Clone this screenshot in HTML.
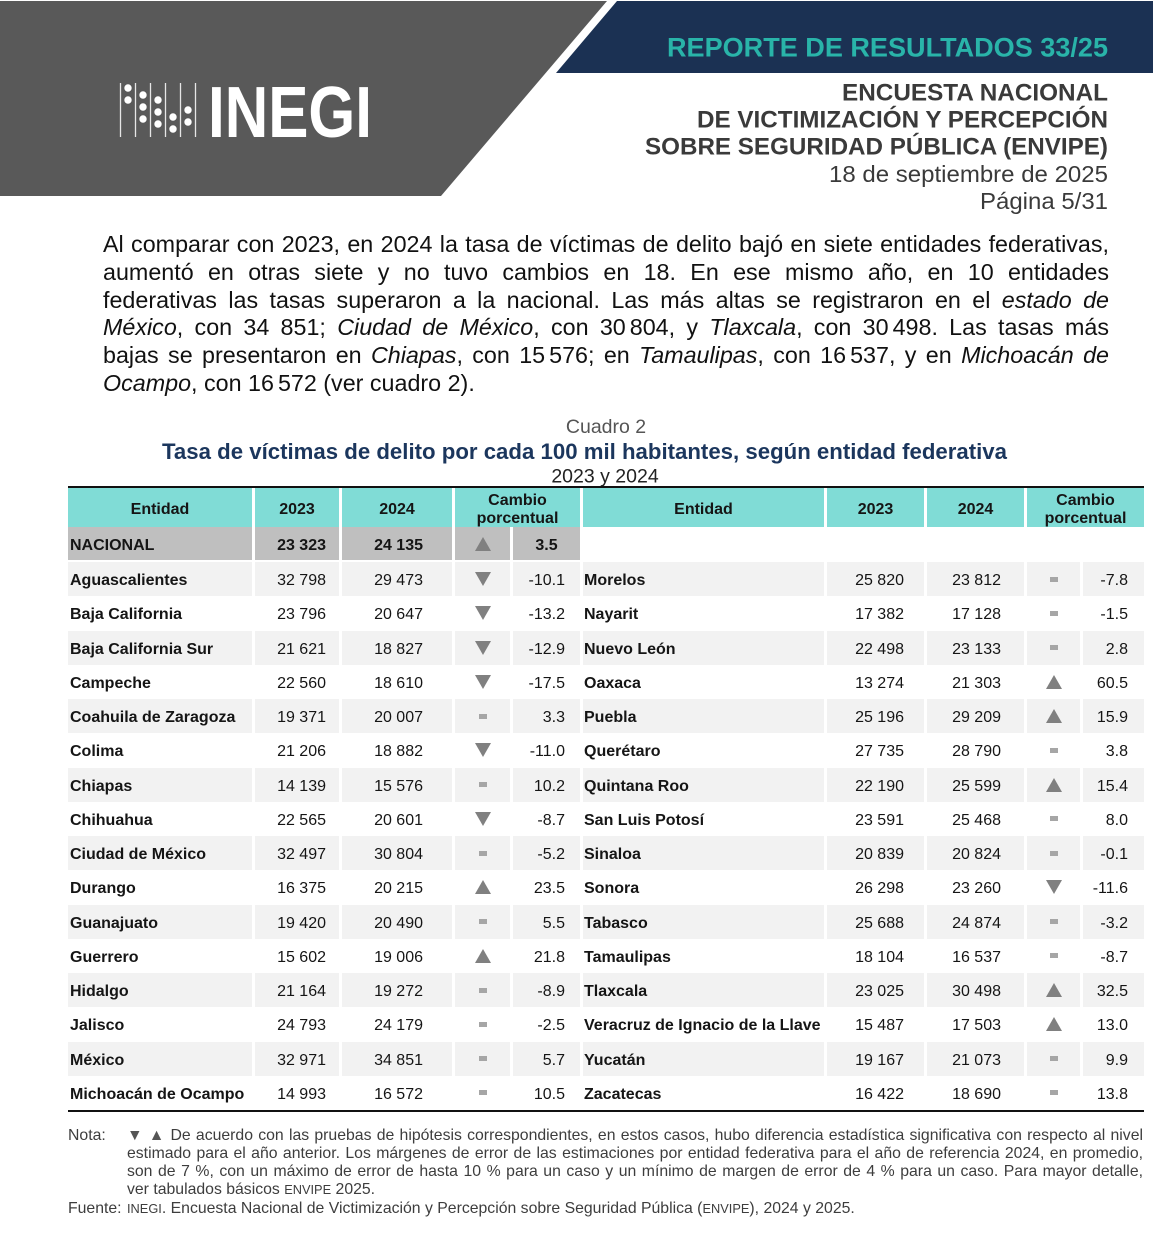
<!DOCTYPE html>
<html><head><meta charset="utf-8">
<style>
*{margin:0;padding:0;box-sizing:border-box}
body{width:1153px;height:1239px;position:relative;overflow:hidden;background:#fff;font-family:"Liberation Sans",Arial,sans-serif;color:#111}
.abs{position:absolute}
.para{position:absolute;left:103px;top:231px;width:1006px;font-size:23.3px;line-height:27.8px;color:#111}
.para div{text-align:justify;text-align-last:justify}
.para div.l{text-align-last:left}
.n{display:inline-block}
.hr{position:absolute;left:68px;width:1076px;height:2px;background:#111}
.row{position:absolute;left:68px;display:flex;height:34.25px}
.c{height:100%;display:flex;align-items:center;font-size:16px;white-space:nowrap;margin-right:3px;color:#151515;padding-top:4px}
.a1{width:184px;padding-left:2px;font-weight:bold}
.a2{width:84px;justify-content:flex-end;padding-right:13px}
.a3{width:110px;justify-content:flex-end;padding-right:29px}
.a4{width:55px;justify-content:center;padding-top:0}
.a5{width:67px;justify-content:flex-end;padding-right:15px}
.b1{width:241px;padding-left:1px;font-weight:bold}
.b2{width:97px;justify-content:flex-end;padding-right:20px}
.b3{width:97px;justify-content:flex-end;padding-right:23px}
.b4{width:53px;justify-content:center;padding-top:0}
.b5{width:61px;justify-content:flex-end;padding-right:16px;margin-right:0}
.g .c{background:#f2f2f2}
.hd{top:488px;height:39px}
.hd .c{background:#80dcd6;font-weight:bold;justify-content:center;text-align:center;line-height:18px;padding:4px 0 0 0}
.nat{top:527px;height:33px}
.nat .c{font-weight:bold}
.nat .k{background:#bfbfbf}
.dn{display:block;width:0;height:0;border-left:8px solid transparent;border-right:8px solid transparent;border-top:14px solid #808080}
.up{display:block;width:0;height:0;border-left:8px solid transparent;border-right:8px solid transparent;border-bottom:14px solid #808080}
.eq{display:block;width:8px;height:5px;background:#a6a6a6}
.note{position:absolute;left:127px;top:1127px;width:1016px;font-size:15.8px;line-height:18px;color:#3d3d3d}
.note div{text-align:justify;text-align-last:justify}
.note div.l{text-align-last:left}
.sc{font-size:12.8px}
.lab{position:absolute;left:68px;font-size:15.8px;line-height:18px;color:#3d3d3d}
</style></head><body>

<svg class="abs" style="left:0;top:0" width="1153" height="220">
<polygon points="0,1 607,1 441,196 0,196" fill="#595959"/>
<polygon points="617,1 1153,1 1153,73 556,73" fill="#1b3153"/>
<g stroke="#e6e6e6" stroke-width="1.3">
<line x1="120.5" y1="83" x2="120.5" y2="137"/>
<line x1="135.5" y1="83" x2="135.5" y2="137"/>
<line x1="150.5" y1="83" x2="150.5" y2="137"/>
<line x1="165.5" y1="83" x2="165.5" y2="137"/>
<line x1="180.5" y1="83" x2="180.5" y2="137"/>
<line x1="195.5" y1="83" x2="195.5" y2="137"/>
</g>
<g fill="#fff">
<circle cx="128" cy="88" r="3.7"/><circle cx="128" cy="100" r="3.7"/>
<circle cx="143" cy="95" r="3.7"/><circle cx="143" cy="107" r="3.7"/><circle cx="143" cy="119" r="3.7"/>
<circle cx="158" cy="100" r="3.7"/><circle cx="158" cy="112" r="3.7"/><circle cx="158" cy="124" r="3.7"/>
<circle cx="173" cy="117" r="3.7"/><circle cx="173" cy="129" r="3.7"/>
<circle cx="188" cy="110" r="3.7"/><circle cx="188" cy="122" r="3.7"/>
</g>
<text x="208" y="137" font-family="Liberation Sans, sans-serif" font-weight="bold" font-size="72" fill="#fff" textLength="164" lengthAdjust="spacingAndGlyphs">INEGI</text>
<text x="1108" y="56.5" text-anchor="end" font-family="Liberation Sans, sans-serif" font-weight="bold" font-size="27" fill="#29b4a9" textLength="441" lengthAdjust="spacingAndGlyphs">REPORTE DE RESULTADOS 33/25</text>
<g font-family="Liberation Sans, sans-serif" font-weight="bold" font-size="24" fill="#3a3a3a" text-anchor="end">
<text x="1108" y="100.5" textLength="266" lengthAdjust="spacingAndGlyphs">ENCUESTA NACIONAL</text>
<text x="1108" y="127.5" textLength="411" lengthAdjust="spacingAndGlyphs">DE VICTIMIZACIÓN Y PERCEPCIÓN</text>
<text x="1108" y="154.5" textLength="463" lengthAdjust="spacingAndGlyphs">SOBRE SEGURIDAD PÚBLICA (ENVIPE)</text>
</g>
<g font-family="Liberation Sans, sans-serif" font-size="23" fill="#3a3a3a" text-anchor="end">
<text x="1108" y="182" textLength="279" lengthAdjust="spacingAndGlyphs">18 de septiembre de 2025</text>
<text x="1108" y="209" textLength="128" lengthAdjust="spacingAndGlyphs">Página 5/31</text>
</g>
</svg>

<div class="para">
<div>Al comparar con 2023, en 2024 la tasa de víctimas de delito bajó en siete entidades federativas,</div>
<div>aumentó en otras siete y no tuvo cambios en 18. En ese mismo año, en 10 entidades</div>
<div>federativas las tasas superaron a la nacional. Las más altas se registraron en el <i>estado de</i></div>
<div><i>México</i>, con 34 851; <i>Ciudad de México</i>, con <span class="n">30<span style="margin-left:4px"></span>804</span>, y <i>Tlaxcala</i>, con <span class="n">30<span style="margin-left:4px"></span>498</span>. Las tasas más</div>
<div>bajas se presentaron en <i>Chiapas</i>, con <span class="n">15<span style="margin-left:4px"></span>576</span>; en <i>Tamaulipas</i>, con <span class="n">16<span style="margin-left:4px"></span>537</span>, y en <i>Michoacán de</i></div>
<div class="l"><i>Ocampo</i>, con <span class="n">16<span style="margin-left:4px"></span>572</span> (ver cuadro 2).</div>
</div>

<svg class="abs" style="left:0;top:400px" width="1153" height="86">
<text x="606" y="33" text-anchor="middle" font-family="Liberation Sans, sans-serif" font-size="19.5" fill="#555">Cuadro 2</text>
<text x="162" y="59" font-family="Liberation Sans, sans-serif" font-weight="bold" font-size="22" fill="#1b365d" textLength="845" lengthAdjust="spacingAndGlyphs">Tasa de víctimas de delito por cada 100 mil habitantes, según entidad federativa</text>
<text x="605" y="82.5" text-anchor="middle" font-family="Liberation Sans, sans-serif" font-size="19.5" fill="#222">2023 y 2024</text>
</svg>

<div class="hr" style="top:486px"></div>

<div class="row hd">
<div class="c" style="width:184px">Entidad</div>
<div class="c" style="width:84px">2023</div>
<div class="c" style="width:110px">2024</div>
<div class="c" style="width:125px">Cambio<br>porcentual</div>
<div class="c" style="width:241px">Entidad</div>
<div class="c" style="width:97px">2023</div>
<div class="c" style="width:97px">2024</div>
<div class="c" style="width:117px;margin-right:0">Cambio<br>porcentual</div>
</div>

<div class="row nat">
<div class="c a1 k">NACIONAL</div>
<div class="c a2 k">23 323</div>
<div class="c a3 k">24 135</div>
<div class="c a4 k"><span class="up"></span></div>
<div class="c a5 k" style="justify-content:center;padding-right:0">3.5</div>
</div>

<div class="row g" style="top:562px"><div class="c a1">Aguascalientes</div><div class="c a2">32 798</div><div class="c a3">29 473</div><div class="c a4"><span class="dn"></span></div><div class="c a5">-10.1</div><div class="c b1">Morelos</div><div class="c b2">25 820</div><div class="c b3">23 812</div><div class="c b4"><span class="eq"></span></div><div class="c b5">-7.8</div></div>
<div class="row" style="top:596.25px"><div class="c a1">Baja California</div><div class="c a2">23 796</div><div class="c a3">20 647</div><div class="c a4"><span class="dn"></span></div><div class="c a5">-13.2</div><div class="c b1">Nayarit</div><div class="c b2">17 382</div><div class="c b3">17 128</div><div class="c b4"><span class="eq"></span></div><div class="c b5">-1.5</div></div>
<div class="row g" style="top:630.5px"><div class="c a1">Baja California Sur</div><div class="c a2">21 621</div><div class="c a3">18 827</div><div class="c a4"><span class="dn"></span></div><div class="c a5">-12.9</div><div class="c b1">Nuevo León</div><div class="c b2">22 498</div><div class="c b3">23 133</div><div class="c b4"><span class="eq"></span></div><div class="c b5">2.8</div></div>
<div class="row" style="top:664.75px"><div class="c a1">Campeche</div><div class="c a2">22 560</div><div class="c a3">18 610</div><div class="c a4"><span class="dn"></span></div><div class="c a5">-17.5</div><div class="c b1">Oaxaca</div><div class="c b2">13 274</div><div class="c b3">21 303</div><div class="c b4"><span class="up"></span></div><div class="c b5">60.5</div></div>
<div class="row g" style="top:699px"><div class="c a1">Coahuila de Zaragoza</div><div class="c a2">19 371</div><div class="c a3">20 007</div><div class="c a4"><span class="eq"></span></div><div class="c a5">3.3</div><div class="c b1">Puebla</div><div class="c b2">25 196</div><div class="c b3">29 209</div><div class="c b4"><span class="up"></span></div><div class="c b5">15.9</div></div>
<div class="row" style="top:733.25px"><div class="c a1">Colima</div><div class="c a2">21 206</div><div class="c a3">18 882</div><div class="c a4"><span class="dn"></span></div><div class="c a5">-11.0</div><div class="c b1">Querétaro</div><div class="c b2">27 735</div><div class="c b3">28 790</div><div class="c b4"><span class="eq"></span></div><div class="c b5">3.8</div></div>
<div class="row g" style="top:767.5px"><div class="c a1">Chiapas</div><div class="c a2">14 139</div><div class="c a3">15 576</div><div class="c a4"><span class="eq"></span></div><div class="c a5">10.2</div><div class="c b1">Quintana Roo</div><div class="c b2">22 190</div><div class="c b3">25 599</div><div class="c b4"><span class="up"></span></div><div class="c b5">15.4</div></div>
<div class="row" style="top:801.75px"><div class="c a1">Chihuahua</div><div class="c a2">22 565</div><div class="c a3">20 601</div><div class="c a4"><span class="dn"></span></div><div class="c a5">-8.7</div><div class="c b1">San Luis Potosí</div><div class="c b2">23 591</div><div class="c b3">25 468</div><div class="c b4"><span class="eq"></span></div><div class="c b5">8.0</div></div>
<div class="row g" style="top:836px"><div class="c a1">Ciudad de México</div><div class="c a2">32 497</div><div class="c a3">30 804</div><div class="c a4"><span class="eq"></span></div><div class="c a5">-5.2</div><div class="c b1">Sinaloa</div><div class="c b2">20 839</div><div class="c b3">20 824</div><div class="c b4"><span class="eq"></span></div><div class="c b5">-0.1</div></div>
<div class="row" style="top:870.25px"><div class="c a1">Durango</div><div class="c a2">16 375</div><div class="c a3">20 215</div><div class="c a4"><span class="up"></span></div><div class="c a5">23.5</div><div class="c b1">Sonora</div><div class="c b2">26 298</div><div class="c b3">23 260</div><div class="c b4"><span class="dn"></span></div><div class="c b5">-11.6</div></div>
<div class="row g" style="top:904.5px"><div class="c a1">Guanajuato</div><div class="c a2">19 420</div><div class="c a3">20 490</div><div class="c a4"><span class="eq"></span></div><div class="c a5">5.5</div><div class="c b1">Tabasco</div><div class="c b2">25 688</div><div class="c b3">24 874</div><div class="c b4"><span class="eq"></span></div><div class="c b5">-3.2</div></div>
<div class="row" style="top:938.75px"><div class="c a1">Guerrero</div><div class="c a2">15 602</div><div class="c a3">19 006</div><div class="c a4"><span class="up"></span></div><div class="c a5">21.8</div><div class="c b1">Tamaulipas</div><div class="c b2">18 104</div><div class="c b3">16 537</div><div class="c b4"><span class="eq"></span></div><div class="c b5">-8.7</div></div>
<div class="row g" style="top:973px"><div class="c a1">Hidalgo</div><div class="c a2">21 164</div><div class="c a3">19 272</div><div class="c a4"><span class="eq"></span></div><div class="c a5">-8.9</div><div class="c b1">Tlaxcala</div><div class="c b2">23 025</div><div class="c b3">30 498</div><div class="c b4"><span class="up"></span></div><div class="c b5">32.5</div></div>
<div class="row" style="top:1007.25px"><div class="c a1">Jalisco</div><div class="c a2">24 793</div><div class="c a3">24 179</div><div class="c a4"><span class="eq"></span></div><div class="c a5">-2.5</div><div class="c b1">Veracruz de Ignacio de la Llave</div><div class="c b2">15 487</div><div class="c b3">17 503</div><div class="c b4"><span class="up"></span></div><div class="c b5">13.0</div></div>
<div class="row g" style="top:1041.5px"><div class="c a1">México</div><div class="c a2">32 971</div><div class="c a3">34 851</div><div class="c a4"><span class="eq"></span></div><div class="c a5">5.7</div><div class="c b1">Yucatán</div><div class="c b2">19 167</div><div class="c b3">21 073</div><div class="c b4"><span class="eq"></span></div><div class="c b5">9.9</div></div>
<div class="row" style="top:1075.75px"><div class="c a1">Michoacán de Ocampo</div><div class="c a2">14 993</div><div class="c a3">16 572</div><div class="c a4"><span class="eq"></span></div><div class="c a5">10.5</div><div class="c b1">Zacatecas</div><div class="c b2">16 422</div><div class="c b3">18 690</div><div class="c b4"><span class="eq"></span></div><div class="c b5">13.8</div></div>

<div class="hr" style="top:1110px"></div>

<div class="lab" style="top:1127px">Nota:</div>
<div class="note">
<div><span style="color:#555">▼ ▲</span> De acuerdo con las pruebas de hipótesis correspondientes, en estos casos, hubo diferencia estadística significativa con respecto al nivel</div>
<div>estimado para el año anterior. Los márgenes de error de las estimaciones por entidad federativa para el año de referencia 2024, en promedio,</div>
<div>son de 7 %, con un máximo de error de hasta 10 % para un caso y un mínimo de margen de error de 4 % para un caso. Para mayor detalle,</div>
<div class="l">ver tabulados básicos <span class="sc">ENVIPE</span> 2025.</div>
</div>
<div class="lab" style="top:1200px">Fuente:</div>
<div class="lab" style="top:1200px;left:127px"><span class="sc">INEGI</span>. Encuesta Nacional de Victimización y Percepción sobre Seguridad Pública (<span class="sc">ENVIPE</span>), 2024 y 2025.</div>

</body></html>
